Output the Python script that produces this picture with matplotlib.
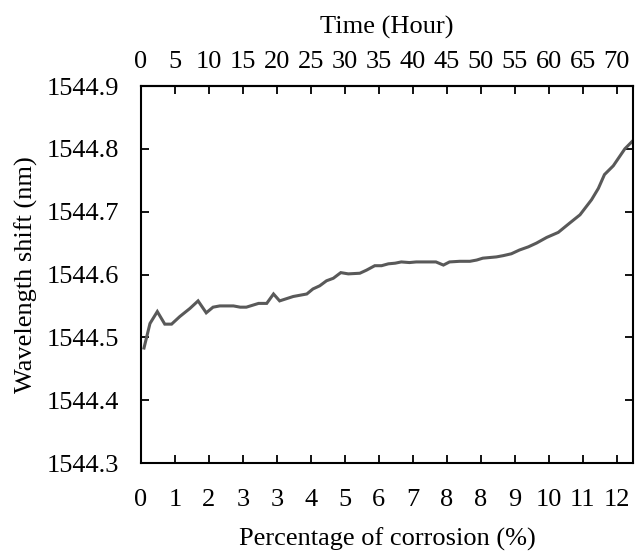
import matplotlib
matplotlib.use("Agg")
import matplotlib.pyplot as plt

# Data (time in hours, wavelength in nm)
hours = [0.44, 1.32, 2.4, 3.5, 4.5, 5.7, 7.2, 8.4, 9.6, 10.6, 11.6, 13.6, 14.6, 15.5,
         17.3, 18.5, 19.5, 20.4, 22.4, 24.4, 25.3, 26.3, 27.3, 28.3, 29.4, 30.5, 32.2,
         33.2, 34.4, 35.4, 36.4, 37.4, 38.3, 39.5, 40.5, 42.3, 43.4, 44.5, 45.4, 46.9,
         48.4, 49.4, 50.3, 52.3, 53.3, 54.5, 55.7, 57.0, 58.2, 59.7, 61.4, 63.1, 64.6,
         66.3, 67.3, 68.2, 69.5, 71.2, 72.3]
wavelength = [1544.483, 1544.522, 1544.541, 1544.521, 1544.521, 1544.533, 1544.546,
              1544.558, 1544.539, 1544.548, 1544.550, 1544.550, 1544.548, 1544.548,
              1544.554, 1544.554, 1544.569, 1544.558, 1544.565, 1544.569, 1544.577,
              1544.582, 1544.590, 1544.594, 1544.603, 1544.601, 1544.602, 1544.607,
              1544.614, 1544.614, 1544.617, 1544.618, 1544.620, 1544.619, 1544.620,
              1544.620, 1544.620, 1544.615, 1544.620, 1544.621, 1544.621, 1544.623,
              1544.626, 1544.628, 1544.630, 1544.633, 1544.639, 1544.644, 1544.650,
              1544.659, 1544.667, 1544.682, 1544.695, 1544.719, 1544.737, 1544.759,
              1544.773, 1544.800, 1544.812]

top_ticks = [0, 5, 10, 15, 20, 25, 30, 35, 40, 45, 50, 55, 60, 65, 70]
bottom_labels = ['0', '1', '2', '3', '3', '4', '5', '6', '7', '8', '8', '9', '10', '11', '12']
y_ticks = [1544.3, 1544.4, 1544.5, 1544.6, 1544.7, 1544.8, 1544.9]

plt.rcParams['font.family'] = ['Liberation Serif', 'DejaVu Serif']
fs = 19

fig = plt.figure(figsize=(6.36, 5.57), dpi=100)
ax = fig.add_axes([141/636, 94/557, 492/636, 377/557])

ax.plot(hours, wavelength, color='#595959', lw=2.2, solid_joinstyle='miter')
ax.set_xlim(0, 72.4)
ax.set_ylim(1544.3, 1544.9)

ax.set_xticks(top_ticks)
ax.set_xticklabels(bottom_labels)
ax.set_yticks(y_ticks)
ax.set_yticklabels([f"{v:.1f}" for v in y_ticks])

for s in ax.spines.values():
    s.set_linewidth(1.5)

ax.tick_params(axis='x', direction='in', length=6, width=1.3, labelsize=fs, pad=19,
               top=False, bottom=True)
ax.tick_params(axis='y', direction='in', length=6, width=1.3, labelsize=fs, pad=16,
               left=True, right=True)
ax.set_xlabel('Percentage of corrosion (%)', fontsize=fs, labelpad=12)
ax.set_ylabel('Wavelength shift (nm)', fontsize=fs, labelpad=6)

sec = ax.secondary_xaxis('top')
sec.set_xticks(top_ticks)
sec.set_xticklabels([str(t) for t in top_ticks])
sec.tick_params(direction='in', length=6, width=1.3, labelsize=fs, pad=9)
sec.spines['top'].set_linewidth(1.5)
sec.set_xlabel('Time (Hour)', fontsize=fs, labelpad=13)

fig.savefig('out.png', dpi=100)
